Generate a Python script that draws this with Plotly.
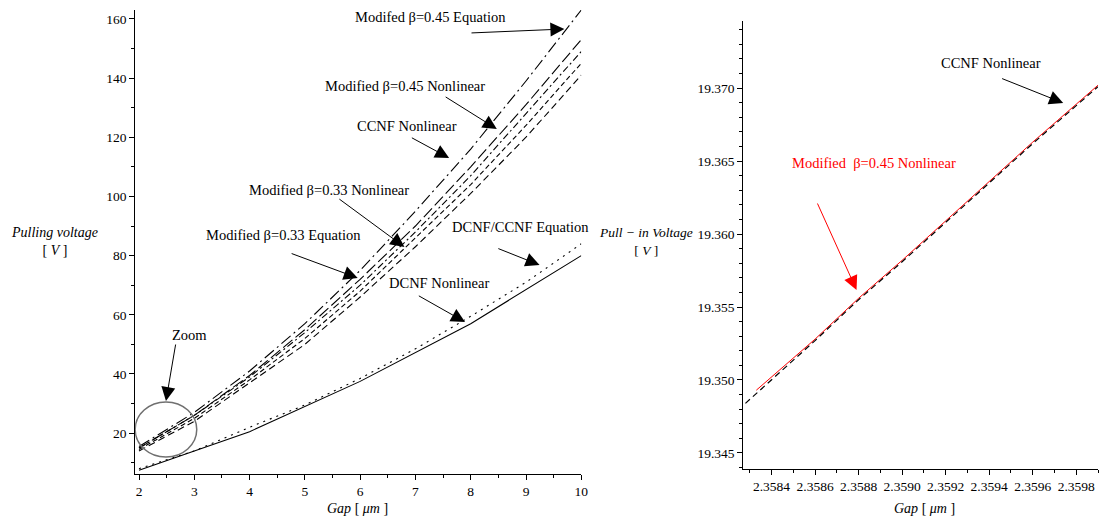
import plotly.graph_objects as go

# ---------------- data ----------------
gap_fine = [2, 3, 4, 5, 6, 7, 8, 9, 10]
gap_coarse = [2, 4, 6, 8, 10]

mod045_eq = [15.5, 27, 41, 57, 75, 95, 116, 139, 163]
mod045_nl = [15, 26, 39.5, 55, 72, 90, 110, 131, 153]
ccnf_nl = [15, 26, 39, 54, 70, 88, 107, 128, 149]
mod033_nl = [14.5, 25, 38, 52, 68, 86, 104, 124, 145]
mod033_eq = [14, 24, 37, 50, 66, 83, 101, 120, 141]
dccnf_eq = [8, 14, 22, 29.5, 38.5, 48.5, 59.5, 71, 84]
dcnf_nl = [7.5, 20.5, 37.5, 57, 80]

zoom_gap = [2.35828, 2.3586, 2.3588, 2.3590, 2.3592, 2.3594, 2.3596, 2.3598, 2.3599]
zoom_ccnf = [19.3484, 19.3527, 19.3555, 19.3581, 19.3608, 19.3635, 19.3662, 19.3688, 19.3701]
zoom_gap_red = [2.35833, 2.3586, 2.3588, 2.3590, 2.3592, 2.3594, 2.3596, 2.3598, 2.3599]
zoom_mod045 = [19.3493, 19.3528, 19.3556, 19.3582, 19.3609, 19.3636, 19.3663, 19.3689, 19.3702]

left_xticks = [2, 3, 4, 5, 6, 7, 8, 9, 10]
left_yticks = [20, 40, 60, 80, 100, 120, 140, 160]

# ---------------- layout geometry ----------------
W, H = 1105, 523
FONT = "Liberation Serif, Times New Roman, DejaVu Serif, serif"
LX = (136, 585); LY = (10, 474)          # pixel box of left plot
RX = (748, 1105); RY = (21, 469)         # pixel box of right plot
LXR = [1.93, 10.0]; LYR = [6.2, 163.0]
RXR = [2.35827, 2.35990]; RYR = [19.3439, 19.3746]


def L(px, py):
    x = LXR[0] + (px - LX[0]) / (LX[1] - LX[0]) * (LXR[1] - LXR[0])
    y = LYR[0] + (LY[1] - py) / (LY[1] - LY[0]) * (LYR[1] - LYR[0])
    return x, y


def R(px, py):
    x = RXR[0] + (px - RX[0]) / (RX[1] - RX[0]) * (RXR[1] - RXR[0])
    y = RYR[0] + (RY[1] - py) / (RY[1] - RY[0]) * (RYR[1] - RYR[0])
    return x, y


fig = go.Figure()


def line(x, y, dash, xa="x", ya="y", color="black", width=1.1):
    fig.add_trace(go.Scatter(x=x, y=y, mode="lines", xaxis=xa, yaxis=ya,
                             line=dict(color=color, width=width, dash=dash),
                             showlegend=False, hoverinfo="skip"))


line(gap_fine, mod033_eq, "7px,4px")
line(gap_fine, mod033_nl, "5px,3px")
line(gap_fine, ccnf_nl, "7px,3px,2px,3px")
line(gap_fine, mod045_nl, "12px,4px")
line(gap_fine, mod045_eq, "12px,4px,2px,4px")
line(gap_fine, dccnf_eq, "2px,5px")
line(gap_coarse, dcnf_nl, "solid")

line(zoom_gap_red, zoom_mod045, "solid", "x2", "y2", color="red", width=1.0)
line(zoom_gap, zoom_ccnf, "6px,4px", "x2", "y2", color="black", width=1.2)

axis_common = dict(showline=True, linecolor="black", linewidth=1, showgrid=False,
                   zeroline=False, ticks="outside", tickcolor="black",
                   tickfont=dict(family=FONT, size=13.5, color="black"))

fig.update_layout(
    width=W, height=H, margin=dict(l=0, r=0, t=0, b=0),
    paper_bgcolor="white", plot_bgcolor="white",
    font=dict(family=FONT, color="black"),
    xaxis=dict(domain=[LX[0] / W, LX[1] / W], range=LXR, anchor="y",
               tickvals=left_xticks, ticklen=5,
               minor=dict(ticks="outside", dtick=0.5, tick0=2, ticklen=3, tickcolor="black"),
               **axis_common),
    yaxis=dict(domain=[1 - LY[1] / H, 1 - LY[0] / H], range=LYR, anchor="x",
               tickvals=left_yticks, ticklen=5,
               minor=dict(ticks="outside", dtick=10, tick0=0, ticklen=3, tickcolor="black"),
               **axis_common),
    xaxis2=dict(domain=[RX[0] / W, RX[1] / W], range=RXR, anchor="y2",
                tick0=2.3584, dtick=0.0002, tickformat=".4f", ticklen=5,
                minor=dict(ticks="outside", dtick=0.0001, ticklen=3, tickcolor="black"),
                **axis_common),
    yaxis2=dict(domain=[1 - RY[1] / H, 1 - RY[0] / H], range=RYR, anchor="x2",
                tick0=19.345, dtick=0.005, tickformat=".3f", ticklen=5,
                minor=dict(ticks="outside", dtick=0.001, ticklen=3, tickcolor="black"),
                **axis_common),
)

# circle "Zoom" marker
cx0, cy0 = L(136, 457)
cx1, cy1 = L(198, 402)
fig.add_shape(type="circle", xref="x", yref="y", x0=cx0, y0=cy0, x1=cx1, y1=cy1,
              line=dict(color="#707070", width=1.5))

anns = []


def text(px, py, s, color="black", size=14.5):
    anns.append(dict(x=px / W, y=1 - py / H, xref="paper", yref="paper", text=s,
                     showarrow=False, xanchor="center", yanchor="middle",
                     font=dict(family=FONT, size=size, color=color)))


def arrow(conv, xr, yr, tail, head, color="black"):
    hx, hy = conv(*head)
    tx, ty = conv(*tail)
    anns.append(dict(x=hx, y=hy, ax=tx, ay=ty, xref=xr, yref=yr, axref=xr, ayref=yr,
                     text="", showarrow=True, arrowhead=2, arrowsize=2.8,
                     arrowwidth=1, arrowcolor=color))


# left plot annotations
text(433, 17, "Modifed β=0.45 Equation")
arrow(L, "x", "y", (473, 33), (568, 29))
text(408, 86, "Modified β=0.45 Nonlinear")
arrow(L, "x", "y", (447, 96), (500, 129))
text(410, 126, "CCNF Nonlinear")
arrow(L, "x", "y", (413, 137), (452, 158))
text(331, 190, "Modified β=0.33 Nonlinear")
arrow(L, "x", "y", (340, 198), (407, 247))
text(285, 235, "Modified β=0.33 Equation")
arrow(L, "x", "y", (292, 253), (360, 278))
text(524, 227, "DCNF/CCNF Equation")
arrow(L, "x", "y", (500, 248), (543, 265))
text(442, 283, "DCNF Nonlinear")
arrow(L, "x", "y", (420, 295), (468, 322))
text(191, 335, "Zoom")
arrow(L, "x", "y", (177, 343), (167, 401))

# right plot annotations
text(997, 63, "CCNF Nonlinear")
arrow(R, "x2", "y2", (1007, 78), (1070, 103))
text(880, 163, "Modified  β=0.45 Nonlinear", color="red")
arrow(R, "x2", "y2", (822, 202), (862, 290), color="red")

# axis titles
text(55, 241, "<i>Pulling voltage</i><br>[ <i>V</i> ]", size=14)
text(360, 508, "<i>Gap</i> [ <i>μm</i> ]", size=14)
text(650, 241, "<i>Pull − in Voltage</i><br>[ <i>V</i> ]", size=13.5)
text(930, 508, "<i>Gap</i> [ <i>μm</i> ]", size=14)

fig.update_layout(annotations=anns)
fig.write_html("out.html")
